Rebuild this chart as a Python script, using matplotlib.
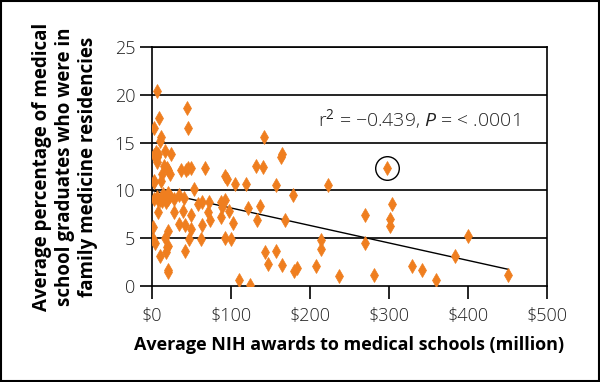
import matplotlib.pyplot as plt
import matplotlib.patches as patches

# NIH awards ($ million) vs % of graduates in family medicine residencies
nih = [6, 3, 9, 45, 46, 12, 11,
       3, 6, 7, 8, 5, 17, 24,
       16, 19, 21, 23, 12, 3, 13,
       37, 43, 46, 50, 67, 93, 95,
       105, 119, 132, 140, 142, 163, 165,
       157, 178, 223, 297, 304, 301, 301,
       269, 270, 400, 383, 451, 360, 342,
       329, 281, 237, 214, 214, 208, 183, 180,
       169, 165, 157, 147, 143, 137, 133, 122,
       124, 110, 100, 92, 103, 97, 92, 87,
       89, 87, 74, 72, 71, 63, 59, 64, 62,
       53, 49, 49, 47, 40, 35, 42, 42, 35,
       28, 28, 20, 3, 11, 15, 18, 20, 8, 13, 23,
       8, 2, 2, 4, 11, 18, 19, 20, 21, 17,
       20, 21, 3, 14, 6, 41]
pct = [20.4, 16.5, 17.6, 18.6, 16.5, 15.6, 15.2,
       13.7, 13.5, 13.0, 13.8, 14.0, 14.1, 13.8,
       12.6, 12.4, 12.1, 11.7, 11.0, 10.9, 11.7,
       12.1, 12.1, 12.4, 12.4, 12.3, 11.5, 11.2,
       10.7, 10.7, 12.6, 12.5, 15.6, 13.5, 13.8,
       10.6, 9.5, 10.6, 12.4, 8.6, 7.0, 6.3,
       7.4, 4.5, 5.2, 3.1, 1.2, 0.6, 1.7,
       2.1, 1.2, 1.1, 4.8, 3.9, 2.1, 1.9, 1.6,
       6.9, 2.2, 3.7, 2.3, 3.6, 8.4, 6.9, 8.2,
       0.1, 0.6, 4.9, 5.0, 6.6, 7.9, 9.0, 8.8,
       8.3, 7.2, 6.9, 8.8, 7.7, 8.8, 8.6, 6.4, 4.9,
       10.2, 7.4, 6.0, 4.9, 7.9, 6.5, 6.4, 3.7, 9.5,
       9.1, 7.7, 9.7, 9.1, 9.0, 9.3, 8.8, 9.1, 9.0, 8.9, 9.4,
       7.7, 6.2, 4.9, 4.5, 3.2, 3.6, 4.1, 5.8, 4.2, 5.0,
       1.5, 1.7, 11.0, 9.6, 9.3, 9.2]

trend_x = [0, 451]
trend_y = [10.0, 1.75]

highlight = (297, 12.4)
xticks = [0, 100, 200, 300, 400, 500]
yticks = [0, 5, 10, 15, 20, 25]

plt.rcParams['font.family'] = ['Open Sans', 'DejaVu Sans']
plt.rcParams['mathtext.fontset'] = 'custom'
plt.rcParams['mathtext.rm'] = 'Open Sans'
plt.rcParams['mathtext.it'] = 'Open Sans:italic'

fig = plt.figure(figsize=(6, 3.82), dpi=100)
ax = fig.add_axes([0.253, 0.251, 0.659, 0.626])

for y in yticks[1:]:
    ax.axhline(y, color='black', lw=1.2, zorder=1)

ax.plot(trend_x, trend_y, color='black', lw=1, zorder=2)
ax.plot(nih, pct, linestyle='none', marker='d', ms=7, color='#EF7E1F',
        mec='#EF7E1F', mew=0.5, zorder=3)
ax.plot(*highlight, marker='o', ms=17, mfc='none', mec='black', mew=1, zorder=4)

ax.text(210, 17.45, 'r$^{2}$ = \u22120.439, $\\mathit{P}$ = < .0001',
        fontsize=14, va='center', ha='left', color='#222222',
        fontweight='light')

ax.set_xlim(0, 500)
ax.set_ylim(0, 25)
ax.set_xticks(xticks)
ax.set_xticklabels(['$' + str(v) for v in xticks])
ax.set_yticks(yticks)
ax.tick_params(axis='x', direction='out', length=9, width=1.2, pad=6,
               labelsize=13, colors='black', labelcolor='#222222')
ax.tick_params(axis='y', direction='out', length=9, width=1.2, pad=3,
               labelsize=13, colors='black', labelcolor='#222222')
for lab in ax.get_xticklabels() + ax.get_yticklabels():
    lab.set_fontweight('light')
for s in ax.spines.values():
    s.set_linewidth(1.2)
    s.set_color('black')

ax.set_xlabel('Average NIH awards to medical schools (million)',
              fontsize=13, fontweight='bold', labelpad=8)
ax.set_ylabel('Average percentage of medical\nschool graduates who were in\n'
              'family medicine residencies',
              fontsize=13.5, fontweight='bold', linespacing=1.2, labelpad=12)

fig.patches.append(patches.Rectangle((0.002, 0.003), 0.996, 0.994,
                                     transform=fig.transFigure, fill=False,
                                     edgecolor='black', lw=1.5))

fig.savefig('out.png', dpi=100)
